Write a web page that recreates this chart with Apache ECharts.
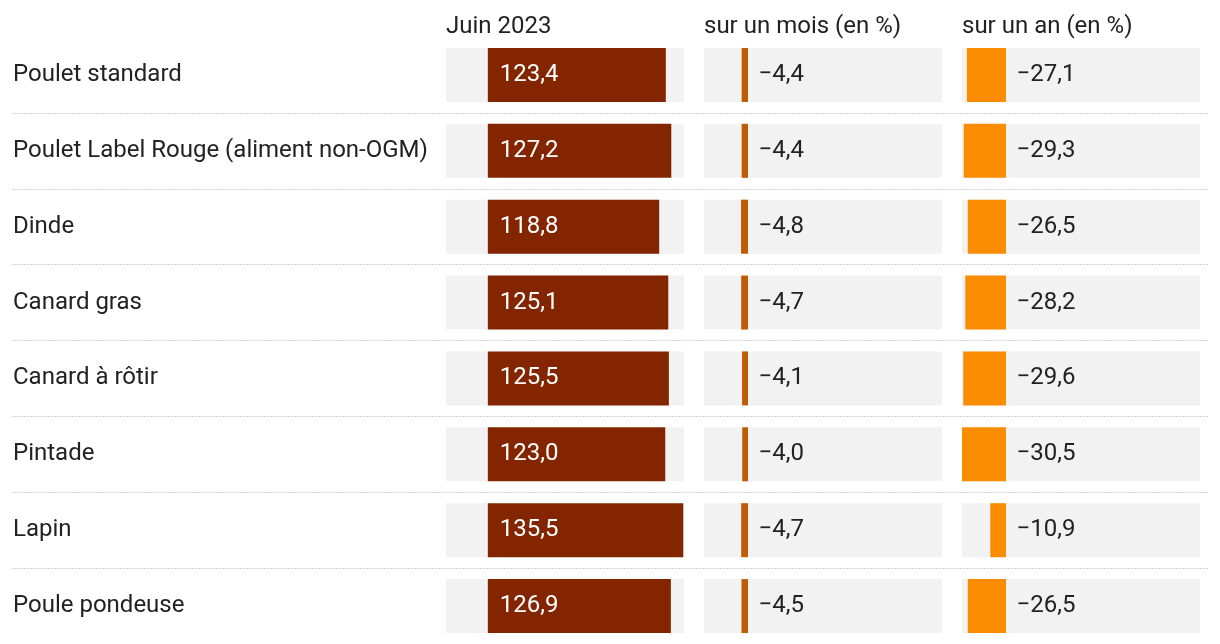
<!DOCTYPE html>
<html>
<head>
<meta charset="utf-8">
<script src="https://cdn.jsdelivr.net/npm/echarts@6/dist/echarts.min.js"></script>
<style>
html,body{margin:0;padding:0;background:#fff;}
#chart{width:1220px;height:644px;}
</style>
</head>
<body>
<div id="chart"></div>
<script>
const categories = ["Poulet standard","Poulet Label Rouge (aliment non-OGM)","Dinde","Canard gras","Canard à rôtir","Pintade","Lapin","Poule pondeuse"];
const headers = ["Juin 2023","sur un mois (en %)","sur un an (en %)"];
const juin2023 = [123.4,127.2,118.8,125.1,125.5,123.0,135.5,126.9];
const surUnMois = [-4.4,-4.4,-4.8,-4.7,-4.1,-4.0,-4.7,-4.5];
const surUnAn = [-27.1,-29.3,-26.5,-28.2,-29.6,-30.5,-10.9,-26.5];

const FONT = 'Roboto, "Noto Sans", sans-serif';
const FS = 24;
const TXT = '#222222';
const PAD = [3,0,0,0];
const fmt = v => (v < 0 ? '\u2212' : '') + Math.abs(v).toFixed(1).replace('.', ',');

const TOP = 37, H = 608;
const colLefts = [446, 704, 962];
const colW = 238;

const chart = echarts.init(document.getElementById('chart'), null, {renderer:'canvas'});

const grids = [{left:12, right:12, top:TOP, height:H}];
colLefts.forEach(l => grids.push({left:l, width:colW, top:TOP, height:H}));

const xAxes = [
  {gridIndex:0, type:'value', show:false, min:0, max:1},
  {gridIndex:1, type:'value', show:false, min:-29, max:136},
  {gridIndex:2, type:'value', show:false, min:-30.5, max:134.5},
  {gridIndex:3, type:'value', show:false, min:-30.5, max:134.5}
];
const yAxes = [0,1,2,3].map(i => ({
  gridIndex:i, type:'category', data:categories, inverse:true,
  axisLine:{show:false}, axisTick:{show:false},
  axisLabel: i === 0 ? {show:true, inside:true, align:'left', margin:1, padding:PAD, color:TXT, fontFamily:FONT, fontSize:FS} : {show:false},
  splitLine: i === 0 ? {show:true, interval:(idx)=> idx !== 0, lineStyle:{type:[2,1], color:'#d2d2d2', width:1}} : {show:false}
}));

function barSeries(idx, data, color, labelOpt){
  return {
    type:'bar', xAxisIndex:idx, yAxisIndex:idx, data:data, barWidth:54,
    showBackground:true, backgroundStyle:{color:'#f2f2f2'},
    itemStyle:{color:color}, silent:true, animation:false,
    label: labelOpt
  };
}
function zeroLabels(idx, data){
  return {
    type:'scatter', xAxisIndex:idx, yAxisIndex:idx, symbolSize:1, animation:false, silent:true,
    itemStyle:{color:'rgba(0,0,0,0)', opacity:1}, z:5,
    data: data.map((v,i) => [0, i, v]),
    label:{show:true, position:'right', distance:10, padding:PAD, color:TXT, fontFamily:FONT, fontSize:FS,
      formatter: p => fmt(p.value[2])},
    labelLayout:{hideOverlap:false}
  };
}

const option = {
  backgroundColor:'#ffffff',
  animation:false,
  grid: grids,
  xAxis: xAxes,
  yAxis: yAxes,
  graphic: headers.map((h,i) => ({
    type:'text', left:colLefts[i], top:15,
    style:{text:h, fill:TXT, font:FS + 'px ' + FONT}
  })),
  series: [
    barSeries(1, juin2023, '#832600', {show:true, position:'insideLeft', distance:12, padding:PAD, color:'#ffffff', fontFamily:FONT, fontSize:FS, formatter:p=>fmt(p.value)}),
    barSeries(2, surUnMois, '#bf5a05', {show:false}),
    zeroLabels(2, surUnMois),
    barSeries(3, surUnAn, '#f98c00', {show:false}),
    zeroLabels(3, surUnAn)
  ]
};
chart.setOption(option);
</script>
</body>
</html>
